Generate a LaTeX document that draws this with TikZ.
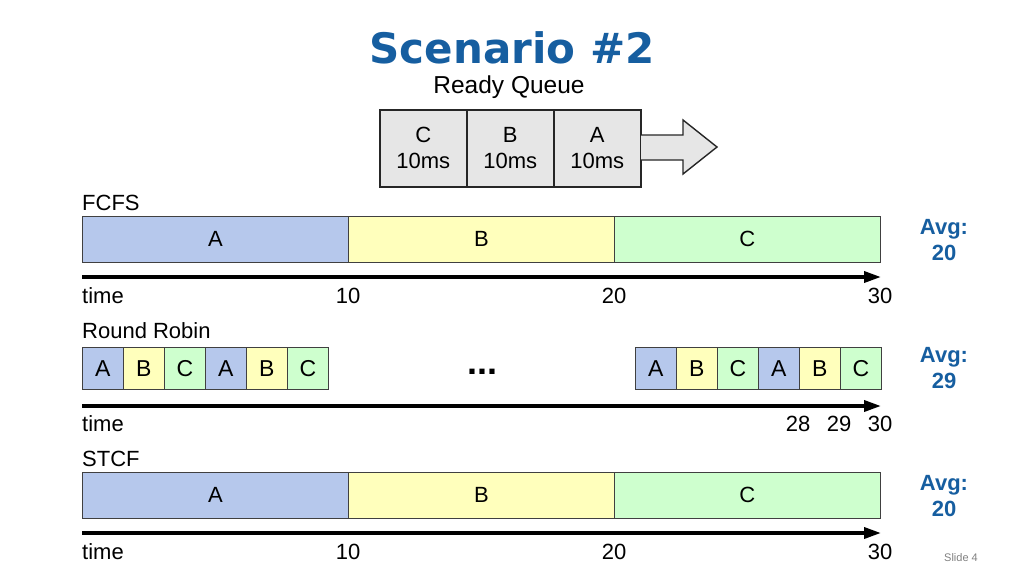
\documentclass[tikz,border=0pt]{standalone}
\usepackage{fontspec}
\setmainfont{Liberation Sans}
\newfontfamily\titlefont{DejaVu Sans}
\usetikzlibrary{arrows.meta}
\definecolor{titleblue}{RGB}{22,94,160}
\definecolor{qgray}{RGB}{230,230,230}
\definecolor{procA}{RGB}{182,200,236}
\definecolor{procB}{RGB}{255,255,188}
\definecolor{procC}{RGB}{206,255,206}
\tikzset{
  qbox/.style={draw=black!85, line width=1.6pt, fill=qgray, minimum width=87pt, minimum height=77pt, inner sep=0pt, anchor=north west, align=center, font=\fontsize{22}{26}\selectfont},
  bigbar/.style={draw=black!75, line width=0.8pt, minimum width=266pt, minimum height=46pt, inner sep=0pt, anchor=north west, font=\fontsize{22}{26}\selectfont},
  rrbox/.style={draw=black!75, line width=0.8pt, minimum width=41pt, minimum height=42pt, inner sep=0pt, anchor=north west, font=\fontsize{23}{26}\selectfont},
  lbl/.style={inner sep=0pt, font=\fontsize{22}{26}\selectfont},
  avg/.style={inner sep=0pt, align=center, text=titleblue, font=\fontsize{22}{26}\selectfont\bfseries},
  timeline/.style={line width=3.5pt, -{Triangle[length=17pt,width=11pt]}},
}
\begin{document}
\begin{tikzpicture}[x=1pt,y=-1pt]
\useasboundingbox (0,0) rectangle (1024,576);
% title
\node[inner sep=0pt, text=titleblue, font=\fontsize{42}{48}\selectfont\titlefont\bfseries] (title) at (512,48) {Scenario \#2};
\node[inner sep=0pt, font=\fontsize{24.5}{28}\selectfont] (rq) at (509,87) {Ready Queue};
% ready queue
\node[qbox] (qC) at (379,109) {C\\10ms};
\node[qbox] (qB) at (466,109) {B\\10ms};
\node[qbox] (qA) at (553,109) {A\\10ms};
\draw[draw=black!85, line width=1.4pt, fill=qgray, line join=miter]
  (641,135) -- (683,135) -- (683,120) -- (717,147) -- (683,174) -- (683,160) -- (641,160);
% FCFS
\node[lbl, anchor=west] (fcfs) at (82,203) {FCFS};
\node[bigbar, fill=procA] (fA) at (82,216) {A};
\node[bigbar, fill=procB] (fB) at (348,216) {B};
\node[bigbar, fill=procC] (fC) at (614,216) {C};
\coordinate (f0) at (82,277);
\coordinate (f1) at (881,277);
\draw[timeline] (f0) -- (f1);
\node[lbl, anchor=west] (ftime) at (82,296) {time};
\node[lbl] (f10) at (348,296) {10};
\node[lbl] (f20) at (614,296) {20};
\node[lbl] (f30) at (880,296) {30};
\node[avg] (favg) at (944,240) {Avg:\\20};
% Round Robin
\node[lbl, anchor=west] (rr) at (82,331) {Round Robin};
\node[rrbox, fill=procA] (r1) at (82,347) {A};
\node[rrbox, fill=procB] (r2) at (123,347) {B};
\node[rrbox, fill=procC] (r3) at (164,347) {C};
\node[rrbox, fill=procA] (r4) at (205,347) {A};
\node[rrbox, fill=procB] (r5) at (246,347) {B};
\node[rrbox, fill=procC] (r6) at (287,347) {C};
\node[inner sep=0pt, anchor=base, font=\fontsize{36}{36}\selectfont\bfseries] (dots) at (482,374) {...};
\node[rrbox, fill=procA] (s1) at (635,347) {A};
\node[rrbox, fill=procB] (s2) at (676,347) {B};
\node[rrbox, fill=procC] (s3) at (717,347) {C};
\node[rrbox, fill=procA] (s4) at (758,347) {A};
\node[rrbox, fill=procB] (s5) at (799,347) {B};
\node[rrbox, fill=procC] (s6) at (840,347) {C};
\coordinate (r0) at (82,406);
\coordinate (rE) at (881,406);
\draw[timeline] (r0) -- (rE);
\node[lbl, anchor=west] (rtime) at (82,424) {time};
\node[lbl] (r28) at (798,424) {28};
\node[lbl] (r29) at (839,424) {29};
\node[lbl] (r30) at (880,424) {30};
\node[avg] (ravg) at (944,368) {Avg:\\29};
% STCF
\node[lbl, anchor=west] (stcf) at (82,459) {STCF};
\node[bigbar, fill=procA] (sA) at (82,472) {A};
\node[bigbar, fill=procB] (sB) at (348,472) {B};
\node[bigbar, fill=procC] (sC) at (614,472) {C};
\coordinate (t0) at (82,533);
\coordinate (t1) at (881,533);
\draw[timeline] (t0) -- (t1);
\node[lbl, anchor=west] (stime) at (82,552) {time};
\node[lbl] (s10) at (348,552) {10};
\node[lbl] (s20) at (614,552) {20};
\node[lbl] (s30) at (880,552) {30};
\node[avg] (savg) at (944,496) {Avg:\\20};
% footer
\node[inner sep=0pt, text=black!50, font=\fontsize{11}{13}\selectfont] (slide) at (961,558) {Slide 4};
\end{tikzpicture}
\end{document}
